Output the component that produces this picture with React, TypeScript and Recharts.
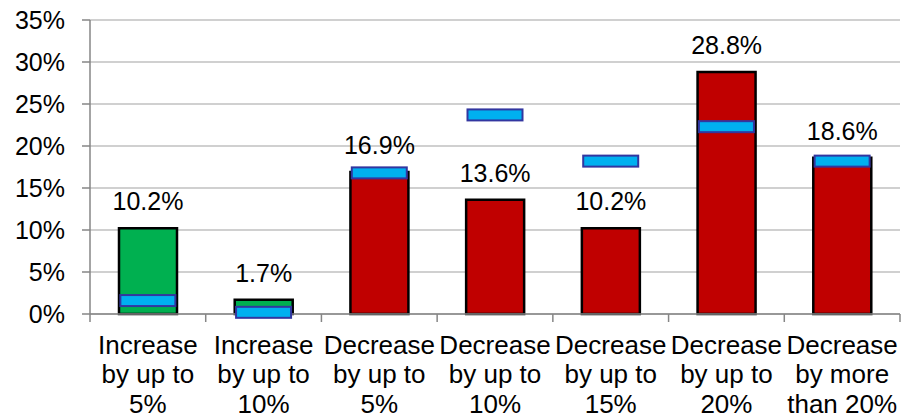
import React from 'react';
import {
  ComposedChart,
  Bar,
  Line,
  XAxis,
  YAxis,
  CartesianGrid,
  Cell,
  LabelList,
} from 'recharts';

// Change categories (each line of a label separated by "\n")
const categories = [
  'Increase\nby up to\n5%',
  'Increase\nby up to\n10%',
  'Decrease\nby up to\n5%',
  'Decrease\nby up to\n10%',
  'Decrease\nby up to\n15%',
  'Decrease\nby up to\n20%',
  'Decrease\nby more\nthan 20%',
];

// Share of respondents per category (%)
const shareValues = [10.2, 1.7, 16.9, 13.6, 10.2, 28.8, 18.6];

// Comparison level shown as a marker on each bar (%)
const benchmarkValues = [1.6, 0.2, 16.8, 23.7, 18.2, 22.3, 18.2];

// Y axis ticks (%)
const yTicks = [0, 5, 10, 15, 20, 25, 30, 35];

const FONT = '"Liberation Sans", Arial, Helvetica, sans-serif';
const GREEN = '#00B050';
const RED = '#C00000';
const MARKER_FILL = '#00B0F0';
const MARKER_STROKE = '#3236A0';
const AXIS = '#868686';
const GRID = '#C0C0C0';

const data = categories.map((name, i) => ({
  name,
  share: shareValues[i],
  benchmark: benchmarkValues[i],
}));

// Category label with tick marks on the band boundaries
const CategoryTick = (props: any) => {
  const { x, y, payload, index } = props;
  const half = payload && typeof payload.offset === 'number' && payload.offset > 0 ? payload.offset : 57.86;
  const lines = String(payload.value).split('\n');
  const last = index === categories.length - 1;
  return (
    <g>
      <line x1={x - half} x2={x - half} y1={y - 8} y2={y} stroke={AXIS} strokeWidth={1.5} />
      {last && <line x1={x + half} x2={x + half} y1={y - 8} y2={y} stroke={AXIS} strokeWidth={1.5} />}
      <text x={x} y={y} textAnchor="middle" fontFamily={FONT} fontSize={26} fill="#000">
        {lines.map((l, i) => (
          <tspan key={i} x={x} y={y + 31.5 + i * 29.5}>
            {l}
          </tspan>
        ))}
      </text>
    </g>
  );
};

const ValueLabel = (props: any) => {
  const { x, y, width, value } = props;
  return (
    <text
      x={x + width / 2}
      y={y - 18}
      textAnchor="middle"
      fontFamily={FONT}
      fontSize={25}
      fill="#000"
    >
      {`${Number(value).toFixed(1)}%`}
    </text>
  );
};

const BenchmarkMarker = (props: any) => {
  const { cx, cy } = props;
  if (cx == null || cy == null) return <g />;
  return (
    <rect
      x={cx - 27.5}
      y={cy - 5.5}
      width={55}
      height={11}
      fill={MARKER_FILL}
      stroke={MARKER_STROKE}
      strokeWidth={2}
    />
  );
};

export default function App() {
  return (
    <div style={{ position: 'absolute', left: 0, top: 0, width: 902, height: 420, background: '#fff' }}>
      <ComposedChart
        width={902}
        height={420}
        data={data}
        margin={{ top: 20, right: 2, bottom: 6, left: 0 }}
      >
        <CartesianGrid vertical={false} stroke={GRID} strokeWidth={1.5} />
        <XAxis
          dataKey="name"
          interval={0}
          height={100}
          axisLine={{ stroke: AXIS, strokeWidth: 1.5 }}
          tickLine={false}
          tickSize={8}
          tickMargin={0}
          tick={<CategoryTick />}
        />
        <YAxis
          width={90}
          domain={[0, 35]}
          ticks={yTicks}
          interval={0}
          tickFormatter={(v: number) => `${v}%`}
          axisLine={{ stroke: AXIS, strokeWidth: 1.5 }}
          tickLine={{ stroke: AXIS, strokeWidth: 1.5 }}
          tickSize={8}
          tickMargin={17}
          tick={{ fontFamily: FONT, fontSize: 25, fill: '#000' }}
        />
        <Bar dataKey="share" barSize={58} stroke="#000" strokeWidth={2.5} isAnimationActive={false}>
          {data.map((d, i) => (
            <Cell key={i} fill={d.name.startsWith('Increase') ? GREEN : RED} />
          ))}
          <LabelList dataKey="share" content={<ValueLabel />} />
        </Bar>
        <Line
          dataKey="benchmark"
          stroke="none"
          dot={<BenchmarkMarker />}
          activeDot={false}
          isAnimationActive={false}
        />
      </ComposedChart>
    </div>
  );
}
